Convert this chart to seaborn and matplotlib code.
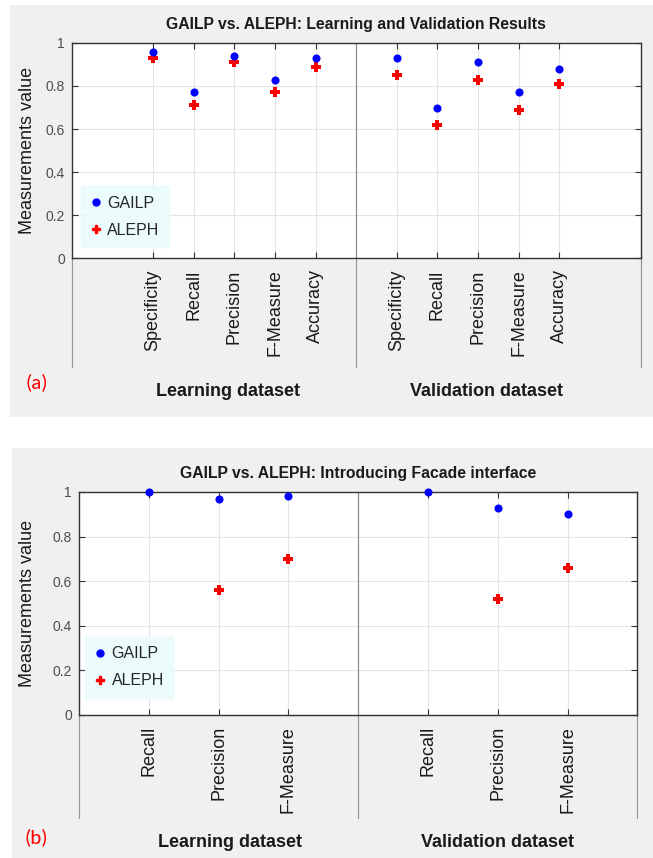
import matplotlib
matplotlib.use("Agg")
import matplotlib.pyplot as plt
import matplotlib.transforms as mtransforms
from matplotlib.lines import Line2D
from matplotlib.patches import Rectangle
import seaborn as sns
import pandas as pd

# panel (a): learning and validation results
metrics_a = ["Specificity", "Recall", "Precision", "F-Measure", "Accuracy"]
gailp_learn_a = [0.96, 0.77, 0.94, 0.83, 0.93]
aleph_learn_a = [0.93, 0.71, 0.91, 0.77, 0.89]
gailp_valid_a = [0.93, 0.70, 0.91, 0.77, 0.88]
aleph_valid_a = [0.85, 0.62, 0.83, 0.69, 0.81]

# panel (b): introducing facade interface
# ALEPH recall is not visible in the picture (hidden under the GAILP dot at 1)
metrics_b = ["Recall", "Precision", "F-Measure"]
gailp_learn_b = [1.00, 0.97, 0.98]
aleph_learn_b = [None, 0.56, 0.70]
gailp_valid_b = [1.00, 0.93, 0.90]
aleph_valid_b = [None, 0.52, 0.66]

groups = ["Learning dataset", "Validation dataset"]
yticks = [0, 0.2, 0.4, 0.6, 0.8, 1]
ytick_labels = ["0", "0.2", "0.4", "0.6", "0.8", "1"]

PALETTE = {"GAILP": "#0000ff", "ALEPH": "#ff0000"}
MARKERS = {"GAILP": "o", "ALEPH": "P"}
SIZES = {"GAILP": 34, "ALEPH": 42}

sns.set_theme(style="white")
plt.rcParams["font.family"] = ["Liberation Sans", "DejaVu Sans"]


def long_frame(metrics, learn_g, learn_a, valid_g, valid_a, learn_start, valid_start):
    rows = []
    # ALEPH first so the GAILP dots end up on top
    for method, learn, valid in [("ALEPH", learn_a, valid_a), ("GAILP", learn_g, valid_g)]:
        for i, m in enumerate(metrics):
            rows.append({"method": method, "metric": m, "pos": learn_start + i, "value": learn[i]})
            rows.append({"method": method, "metric": m, "pos": valid_start + i, "value": valid[i]})
    return pd.DataFrame(rows)


def draw_panel(ax, df, title, xmax, divider, group_x, group_y, ext, legend_anchor):
    for method in ["ALEPH", "GAILP"]:
        sub = df[df.method == method].dropna(subset=["value"])
        sns.scatterplot(data=sub, x="pos", y="value", color=PALETTE[method],
                        marker=MARKERS[method], s=SIZES[method], linewidth=0,
                        legend=False, ax=ax, zorder=4, clip_on=False)
    ax.set_xlim(0, xmax)
    ax.set_ylim(0, 1)
    ticks = df.drop_duplicates("pos").sort_values("pos")
    ax.set_xticks(ticks.pos)
    ax.set_xticklabels(ticks.metric, rotation=90, fontsize=13, color="#1a1a1a")
    ax.set_yticks(yticks)
    ax.set_yticklabels(ytick_labels, fontsize=10, color="#4d4d4d")
    ax.grid(True, color="#e4e4e4", lw=0.8, zorder=0)
    ax.set_axisbelow(True)
    ax.tick_params(axis="both", direction="in", top=True, right=True, bottom=True, left=True,
                   length=4, width=0.8, color="#333333")
    ax.tick_params(axis="x", pad=8)
    ax.tick_params(axis="y", pad=5)
    for s in ax.spines.values():
        s.set_color("#333333")
        s.set_linewidth(1.0)
    ax.set_xlabel("")
    ax.set_ylabel("Measurements value", fontsize=13, color="#1a1a1a")
    ax.set_title(title, fontsize=11.3, fontweight="bold", color="#1a1a1a", pad=10)

    ax.axvline(divider, color="#8c8c8c", lw=0.9, zorder=1)
    trans = mtransforms.blended_transform_factory(ax.transData, ax.transAxes)
    for x in (0, divider, xmax):
        ax.plot([x, x], [0, -ext], transform=trans, color="#9a9a9a", lw=0.9, clip_on=False)
    for gx, label in zip(group_x, groups):
        ax.text(gx, group_y, label, transform=trans, ha="center", va="center",
                fontsize=13, fontweight="bold", color="#1a1a1a")

    handles = [
        Line2D([], [], ls="", marker="o", color=PALETTE["GAILP"], markersize=5, label="GAILP"),
        Line2D([], [], ls="", marker="P", color=PALETTE["ALEPH"], markersize=6, label="ALEPH"),
    ]
    leg = ax.legend(handles=handles, loc="lower left", bbox_to_anchor=legend_anchor,
                    borderaxespad=0, fontsize=11.5, frameon=True, fancybox=False,
                    handlelength=0.7, handletextpad=0.35, labelspacing=0.75,
                    borderpad=0.6)
    leg.get_frame().set_facecolor("#e8fbfb")
    leg.get_frame().set_edgecolor("#e8fbfb")


fig = plt.figure(figsize=(6.53, 8.58), dpi=100)
fig.patch.set_facecolor("white")
fig.patches.append(Rectangle((0.015, 0.514), 0.985, 0.480, transform=fig.transFigure,
                             facecolor="#f0f0f0", edgecolor="none", zorder=-10))
fig.patches.append(Rectangle((0.018, 0.0), 0.982, 0.478, transform=fig.transFigure,
                             facecolor="#f0f0f0", edgecolor="none", zorder=-10))

ax_a = fig.add_axes([0.110, 0.699, 0.871, 0.251])
ax_b = fig.add_axes([0.121, 0.1667, 0.855, 0.260])
ax_a.set_facecolor("white")
ax_b.set_facecolor("white")

df_a = long_frame(metrics_a, gailp_learn_a, aleph_learn_a, gailp_valid_a, aleph_valid_a, 2, 8)
df_b = long_frame(metrics_b, gailp_learn_b, aleph_learn_b, gailp_valid_b, aleph_valid_b, 1, 5)

draw_panel(ax_a, df_a, "GAILP vs. ALEPH: Learning and Validation Results", 14, 7,
           [3.85, 10.2], -0.62, 0.507, (0.016, 0.051))
draw_panel(ax_b, df_b, "GAILP vs. ALEPH: Introducing Facade interface", 8, 4,
           [2.17, 6.0], -0.57, 0.46, (0.011, 0.076))

ax_a.yaxis.set_label_coords(-0.063, 0.5)
ax_b.yaxis.set_label_coords(-0.077, 0.5)

fig.text(0.057, 1 - 382 / 858, "(a)", color="#ff0000", fontsize=15, ha="center", va="center",
         family=["Carlito", "Liberation Sans", "DejaVu Sans"])
fig.text(0.055, 1 - 837 / 858, "(b)", color="#ff0000", fontsize=15, ha="center", va="center",
         family=["Carlito", "Liberation Sans", "DejaVu Sans"])

fig.savefig("out.png", dpi=100)
